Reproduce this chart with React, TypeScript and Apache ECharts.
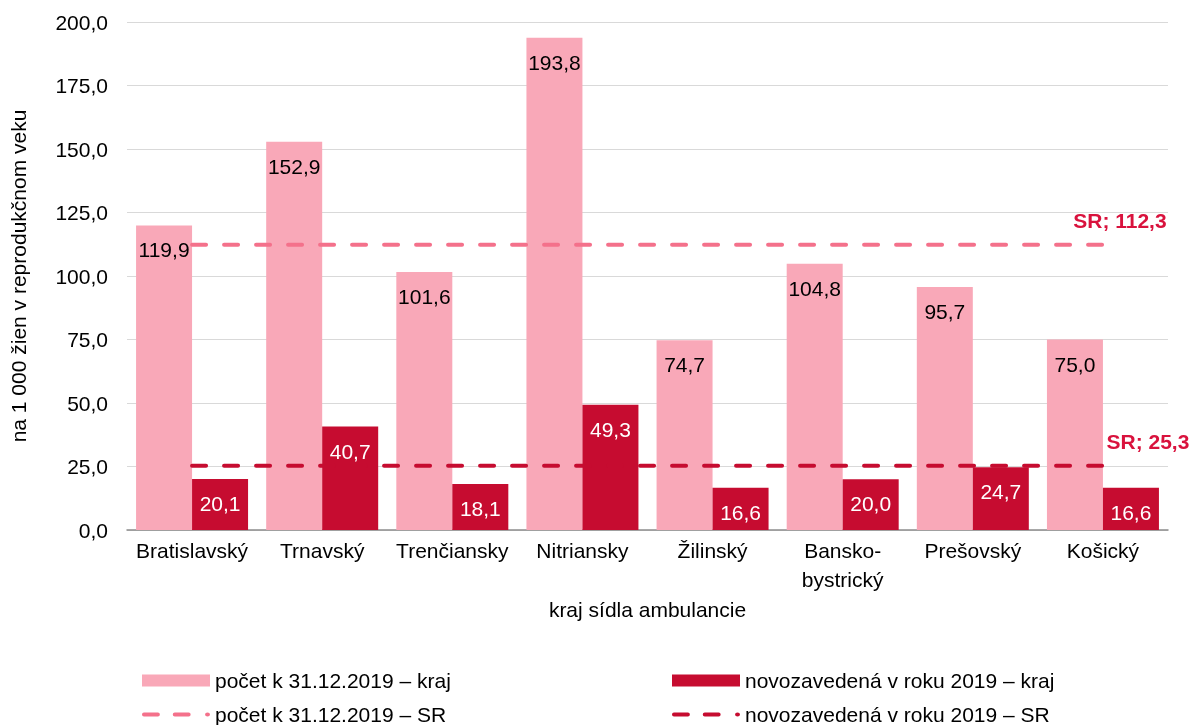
import React, { useEffect, useRef } from "react";
import * as echarts from "echarts";

const categories = ["Bratislavský", "Trnavský", "Trenčiansky", "Nitriansky", "Žilinský", "Bansko-\nbystrický", "Prešovský", "Košický"];
const pocetKraj = [119.9, 152.9, 101.6, 193.8, 74.7, 104.8, 95.7, 75.0];
const novoKraj = [20.1, 40.7, 18.1, 49.3, 16.6, 20.0, 24.7, 16.6];
const pocetSR = 112.3;
const novoSR = 25.3;

const seriesNames = [
  "počet k 31.12.2019 – kraj",
  "novozavedená v roku 2019 – kraj",
  "počet k 31.12.2019 – SR",
  "novozavedená v roku 2019 – SR",
];

const FONT = "Liberation Sans, Arial, sans-serif";
const fmt = (v: number) => v.toFixed(1).replace(".", ",");

const DASH_ICON =
  "path://M2,0h14a2,2 0 0,1 0,4h-14a2,2 0 0,1 0,-4z M33,0h14a2,2 0 0,1 0,4h-14a2,2 0 0,1 0,-4z M63.5,2a2.5,2 0 1,0 5,0a2.5,2 0 1,0 -5,0z";

export default function App() {
  const ref = useRef<HTMLDivElement>(null);
  useEffect(() => {
    if (!ref.current) return;
    const chart = echarts.init(ref.current, null, { renderer: "svg" });
    const PINK = "#F9A8B8";
    const DARK = "#C60C30";
    const PINKLINE = "#F4718B";
    const SRCOLOR = "#D9123D";
    const lineData = (v: number, dx: number) =>
      categories.map((_, i) =>
        i === categories.length - 1
          ? {
              value: v,
              label: {
                show: true,
                position: "top",
                distance: 14,
                offset: [dx, 0],
                formatter: "SR; " + fmt(v),
                color: SRCOLOR,
                fontWeight: "bold",
                fontSize: 21,
                fontFamily: FONT,
              },
            }
          : v
      );
    const legendBase = {
      orient: "horizontal",
      padding: 0,
      itemWidth: 68,
      itemTextGap: 7,
      textStyle: { fontSize: 21, color: "#000", fontFamily: FONT },
    };
    chart.setOption({
      animation: false,
      textStyle: { fontFamily: FONT },
      grid: { left: 127, right: 24, top: 22, bottom: 195, containLabel: false },
      legend: [
        { ...legendBase, data: [{ name: seriesNames[0], icon: "rect" }], left: 142, top: 670, itemHeight: 12 },
        { ...legendBase, data: [{ name: seriesNames[1], icon: "rect" }], left: 672, top: 670, itemHeight: 12 },
        { ...legendBase, data: [{ name: seriesNames[2], icon: DASH_ICON }], left: 142, top: 704, itemHeight: 4 },
        { ...legendBase, data: [{ name: seriesNames[3], icon: DASH_ICON }], left: 672, top: 704, itemHeight: 4 },
      ],
      xAxis: {
        type: "category",
        data: categories,
        name: "kraj sídla ambulancie",
        nameLocation: "middle",
        nameGap: 63,
        nameTextStyle: { fontSize: 21, color: "#000", fontFamily: FONT },
        axisLine: { lineStyle: { color: "#8C8C8C", width: 1.5 } },
        axisTick: { show: false },
        axisLabel: { interval: 0, fontSize: 21, color: "#000", margin: 6, lineHeight: 29, fontFamily: FONT },
      },
      yAxis: {
        type: "value",
        min: 0,
        max: 200,
        interval: 25,
        name: "na 1 000 žien v reprodukčnom veku",
        nameLocation: "middle",
        nameGap: 98,
        nameTextStyle: { fontSize: 21, color: "#000", fontFamily: FONT },
        axisLine: { show: false },
        axisTick: { show: false },
        splitLine: { lineStyle: { color: "#D9D9D9", width: 1 } },
        axisLabel: { fontSize: 21, color: "#000", margin: 19, formatter: (v: number) => fmt(v), fontFamily: FONT },
      },
      series: [
        {
          name: seriesNames[0],
          type: "bar",
          data: pocetKraj,
          barWidth: 56,
          barGap: "0%",
          itemStyle: { color: PINK },
          label: {
            show: true,
            position: "insideTop",
            distance: 14,
            color: "#000",
            fontSize: 21,
            fontFamily: FONT,
            formatter: (p: any) => fmt(p.value),
          },
        },
        {
          name: seriesNames[1],
          type: "bar",
          data: novoKraj,
          barWidth: 56,
          barGap: "0%",
          itemStyle: { color: DARK },
          label: {
            show: true,
            position: "insideTop",
            distance: 14,
            color: "#fff",
            fontSize: 21,
            fontFamily: FONT,
            formatter: (p: any) => fmt(p.value),
          },
        },
        {
          name: seriesNames[2],
          type: "line",
          data: lineData(pocetSR, 17),
          symbol: "circle",
          symbolSize: 0,
          itemStyle: { color: PINKLINE },
          lineStyle: { color: PINKLINE, width: 4, type: [14, 18], cap: "round" },
          z: 5,
        },
        {
          name: seriesNames[3],
          type: "line",
          data: lineData(novoSR, 45),
          symbol: "circle",
          symbolSize: 0,
          itemStyle: { color: DARK },
          lineStyle: { color: DARK, width: 4, type: [14, 18], cap: "round" },
          z: 5,
        },
      ],
    });
    return () => chart.dispose();
  }, []);
  return <div ref={ref} style={{ position: "fixed", left: 0, top: 0, width: 1192, height: 725 }} />;
}
